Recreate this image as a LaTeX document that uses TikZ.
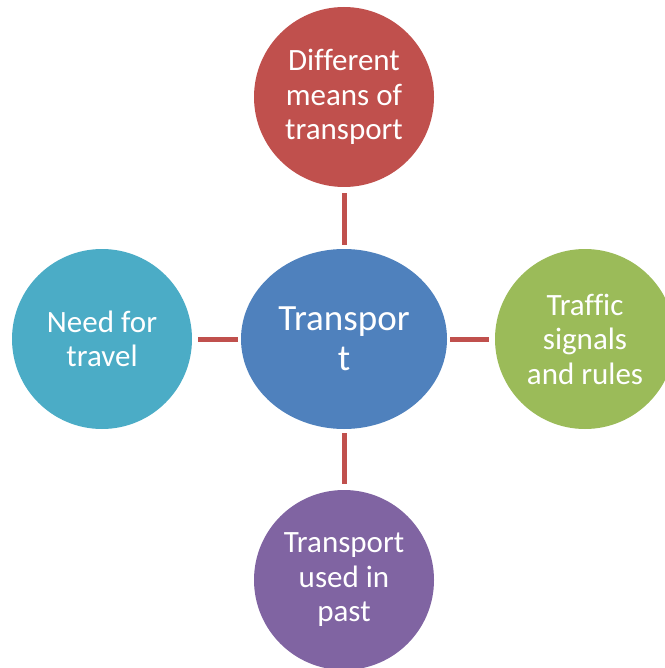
\documentclass[tikz,border=0pt]{standalone}
\usepackage{fontspec}
\setmainfont[Ligatures=NoCommon]{Carlito}
\usetikzlibrary{shapes.geometric}
\definecolor{cred}{HTML}{C0504D}
\definecolor{cblue}{HTML}{4F81BD}
\definecolor{cteal}{HTML}{4BACC6}
\definecolor{cgreen}{HTML}{9BBB59}
\definecolor{cpurple}{HTML}{8064A2}
\tikzset{
  bubble/.style={circle, minimum size=180pt, inner sep=0pt, text=white, align=center,
    font=\fontsize{31}{34.5}\selectfont},
  hub/.style={ellipse, minimum width=206pt, minimum height=180pt, inner sep=0pt, fill=cblue,
    text=white, align=center, font=\fontsize{37}{40}\selectfont},
  link/.style={draw=cred, line width=5pt}
}
\begin{document}
\begin{tikzpicture}[x=1pt,y=-1pt]
\useasboundingbox (0,0) rectangle (664,668);
\node[hub] (c) at (344,339) {Transpor\\t};
\node[bubble, fill=cred] (t) at (344,97) {Different\\means of\\transport};
\node[bubble, fill=cteal] (l) at (102,339) {Need for\\travel};
\node[bubble, fill=cgreen] (r) at (585,339) {Traffic\\signals\\and rules};
\node[bubble, fill=cpurple] (b) at (344,580) {Transport\\used in\\past};
\draw[link, shorten <=6pt, shorten >=4pt] (t.south) -- (c.north);
\draw[link, shorten <=6pt, shorten >=3pt] (l.east) -- (c.west);
\draw[link, shorten <=3pt, shorten >=6pt] (c.east) -- (r.west);
\draw[link, shorten <=4pt, shorten >=6pt] (c.south) -- (b.north);
\end{tikzpicture}
\end{document}
